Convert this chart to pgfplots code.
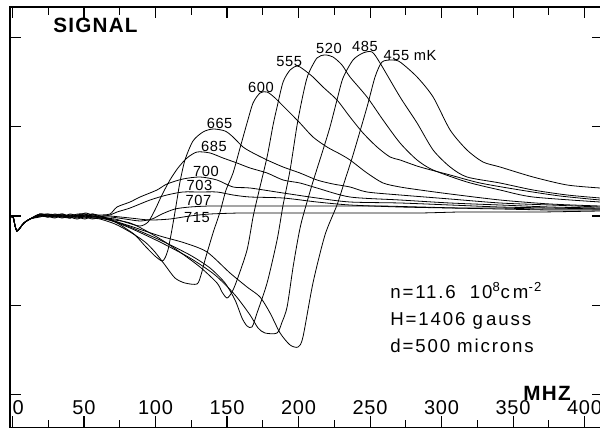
\documentclass[border=0pt]{standalone}
\usepackage{fontspec}
\setmainfont{Liberation Sans}
\newfontfamily\tickfont[LetterSpace=4]{Liberation Sans}
\newfontfamily\labfont[LetterSpace=4]{Liberation Sans}
\newfontfamily\annfont[LetterSpace=10]{Liberation Sans}
\newfontfamily\titfont[LetterSpace=6]{Liberation Sans}
\usepackage{pgfplots}
\pgfplotsset{compat=1.18}
\pgfplotsset{trace/.style={black, line width=0.6pt, smooth, tension=0.45, mark=none}}
\begin{document}
\begin{tikzpicture}
\begin{axis}[
  scale only axis,
  width=444.75pt, height=315.375pt,
  at={(0,0)}, anchor=south west,
  xmin=-1.75, xmax=412.9,
  ymin=-211.5, ymax=209,
  axis line style={line width=1.1pt},
  xtick={0,50,...,400},
  xticklabels={\makebox[0pt][l]{0},50,100,150,200,250,300,350,400},
  minor xtick={25,75,...,375},
  ytick={-178.6,-89.3,0,89.3,178.6},
  yticklabels={},
  tick align=inside,
  major tick length=8.5pt,
  minor tick length=6pt,
  tick style={line width=0.8pt, black},
  xticklabel style={anchor=base, yshift=9.4pt, font=\tickfont\fontsize{15}{17}\selectfont},
]
% 715 mK
\addplot[trace] coordinates {(-1.7,-1) (0.4,-1) (1.8,-10) (3.1,-15) (5.2,-12) (8.0,-7) (12.2,-3) (19.2,2) (24.5,0) (29.7,-1) (35.0,1) (40.2,0) (45.5,2) (50.7,2) (56.0,-1) (61.2,0)
 (68.2,0) (82.2,-2) (96.2,-4) (110.1,-3) (124.1,0) (138.1,2) (159.1,3) (180.1,3) (201.0,3) (229.0,3) (257.0,3) (285.0,3) (313.0,4) (340.9,4) (368.9,4) (410.9,5)};
% 707 mK
\addplot[trace] coordinates {(-1.7,-1) (0.4,-1) (1.8,-10) (3.1,-15) (5.2,-12) (8.0,-7) (12.2,-3) (19.2,0) (24.5,1) (29.7,1) (35.0,-1) (40.2,-2) (45.5,1) (50.7,0) (56.0,2) (61.2,-2)
 (68.2,-1) (78.7,-3) (89.2,-5) (97.6,-3) (104.5,2) (113.6,7) (124.1,9) (138.1,10) (159.1,10) (180.1,10) (201.0,10) (229.0,10) (257.0,10) (285.0,9) (313.0,8) (340.9,8) (368.9,7) (410.9,7)};
% 703 mK
\addplot[trace] coordinates {(-1.7,-1) (0.4,-1) (1.8,-10) (3.1,-15) (5.2,-12) (8.0,-7) (12.2,-3) (19.2,1) (24.5,-1) (29.7,0) (35.0,2) (40.2,-1) (45.5,0) (50.7,1) (56.0,-2) (61.2,-1)
 (68.2,1) (73.1,4) (82.2,8) (96.2,16) (108.0,21) (119.2,24) (131.1,24) (143.0,24) (154.2,21) (166.1,19) (189.2,18) (212.9,14) (236.0,11) (271.0,9) (306.0,8) (340.9,7) (375.9,6) (410.9,6)};
% 700 mK
\addplot[trace] coordinates {(-1.7,-1) (0.4,-1) (1.8,-10) (3.1,-15) (5.2,-12) (8.0,-7) (12.2,-3) (19.2,2) (24.5,1) (29.7,-1) (35.0,0) (40.2,1) (45.5,-1) (50.7,3) (56.0,1) (61.2,1)
 (68.2,2) (73.1,9) (82.2,14) (89.2,19) (101.0,26) (108.0,32) (119.2,37) (131.1,39) (143.0,36) (154.2,29) (166.1,28) (189.2,23) (212.9,18) (236.0,14) (271.0,13) (306.0,11) (340.9,9) (375.9,8) (410.9,7)};
% 685 mK
\addplot[trace] coordinates {(-1.7,-1) (0.4,-1) (1.8,-10) (3.1,-15) (5.2,-12) (8.0,-7) (12.2,-3) (19.2,0) (24.5,2) (29.7,1) (35.0,-1) (40.2,0) (45.5,-2) (50.7,1) (56.0,0) (61.2,-2)
 (71.7,-3) (80.8,-7) (89.2,-10) (94.8,-6) (99.6,6) (104.5,21) (110.1,36) (115.7,48) (122.0,58) (129.0,64) (138.1,63) (147.2,58) (157.0,53) (166.1,48) (178.0,43) (189.2,36) (201.0,33) (212.9,28) (236.0,19) (271.0,16) (306.0,13) (340.9,11) (375.9,9) (410.9,8)};
% 665 mK
\addplot[trace] coordinates {(-1.7,-1) (0.4,-1) (1.8,-10) (3.1,-15) (5.2,-12) (8.0,-7) (12.2,-3) (19.2,1) (24.5,0) (29.7,2) (35.0,0) (40.2,-2) (45.5,1) (50.7,-1) (56.0,-3) (61.2,-2)
 (71.7,-6) (78.7,-12) (85.7,-19) (92.7,-30) (99.6,-40) (104.5,-45) (106.6,-42) (108.7,-34) (110.8,-19) (112.9,-2) (115.0,16) (117.1,34) (120.6,56) (126.2,75) (133.2,84) (140.2,87) (148.6,85) (154.2,79) (161.2,69) (168.2,63) (178.0,56) (189.2,49) (201.0,43) (212.9,36) (224.1,32) (236.0,29) (247.9,24) (271.0,21) (306.0,17) (340.9,13) (375.9,11) (410.9,9)};
% 600 mK
\addplot[trace] coordinates {(-1.7,-1) (0.4,-1) (1.8,-10) (3.1,-15) (5.2,-12) (8.0,-7) (12.2,-3) (19.2,0) (24.5,-1) (29.7,1) (35.0,2) (40.2,-1) (45.5,-3) (50.7,0) (56.0,-2) (61.2,-3)
 (71.7,-8) (82.2,-16) (92.7,-26) (99.6,-36) (106.6,-49) (113.6,-62) (120.6,-67) (129.0,-68) (131.8,-59) (134.6,-44) (140.2,-17) (145.1,4) (149.3,26) (154.2,43) (159.1,68) (164.0,93) (168.2,113) (173.1,123) (178.0,124) (183.6,118) (192.0,106) (201.0,93) (210.1,79) (219.9,69) (229.0,62) (236.0,56) (247.9,43) (259.1,33) (271.0,29) (285.0,26) (306.0,22) (340.9,16) (375.9,12) (410.9,10)};
% 555 mK
\addplot[trace] coordinates {(-1.7,-1) (0.4,-1) (1.8,-10) (3.1,-15) (5.2,-12) (8.0,-7) (12.2,-3) (19.2,2) (24.5,0) (29.7,-2) (35.0,1) (40.2,0) (45.5,-1) (50.7,-3) (56.0,0) (61.2,-2)
 (82.2,-7) (101.0,-21) (115.0,-34) (131.1,-51) (143.0,-67) (146.5,-76) (150.0,-82) (153.5,-76) (157.0,-64) (164.0,-34) (168.2,-1) (171.7,21) (178.0,59) (182.2,91) (185.0,109) (189.2,134) (194.1,146) (199.0,150) (203.1,147) (210.1,139) (217.1,129) (226.9,116) (236.0,99) (245.1,83) (254.9,69) (264.0,59) (271.0,56) (285.0,49) (306.0,41) (326.9,33) (354.9,26) (382.9,20) (410.9,16)};
% 520 mK
\addplot[trace] coordinates {(-1.7,-1) (0.4,-1) (1.8,-10) (3.1,-15) (5.2,-12) (8.0,-7) (12.2,-3) (19.2,1) (24.5,2) (29.7,0) (35.0,-2) (40.2,1) (45.5,0) (50.7,-2) (56.0,1) (61.2,-1)
 (64.7,-2) (82.2,-11) (103.1,-24) (124.1,-39) (138.1,-52) (148.6,-67) (155.6,-84) (160.5,-102) (164.0,-110) (167.5,-111) (171.0,-97) (178.0,-67) (185.0,-24) (189.2,11) (194.1,46) (199.0,91) (203.1,121) (206.6,141) (212.9,158) (218.5,161) (224.1,159) (230.4,151) (236.0,139) (247.9,119) (259.1,96) (271.0,73) (282.9,56) (294.1,46) (317.8,34) (340.9,26) (364.0,19) (410.9,14)};
% 485 mK
\addplot[trace] coordinates {(-1.7,-1) (0.4,-1) (1.8,-10) (3.1,-15) (5.2,-12) (8.0,-7) (12.2,-3) (19.2,-1) (24.5,1) (29.7,0) (35.0,1) (40.2,-2) (45.5,1) (50.7,2) (56.0,-1) (61.2,0)
 (64.7,-2) (82.2,-12) (103.1,-26) (124.1,-42) (141.6,-59) (155.6,-79) (166.1,-99) (171.7,-112) (176.6,-117) (185.0,-117) (188.5,-106) (192.0,-91) (196.2,-51) (199.7,-22) (202.4,-4) (209.4,31) (217.1,66) (222.0,89) (226.9,116) (231.1,138) (238.1,156) (245.1,163) (251.4,164) (257.0,153) (271.0,119) (282.9,93) (294.1,66) (306.0,49) (317.8,39) (340.9,33) (364.0,26) (387.8,21) (410.9,18)};
% 455 mK
\addplot[trace] coordinates {(-1.7,-1) (0.4,-1) (1.8,-10) (3.1,-15) (5.2,-12) (8.0,-7) (12.2,-3) (19.2,1) (24.5,-1) (29.7,0) (35.0,-1) (40.2,2) (45.5,0) (50.7,-1) (56.0,2) (61.2,0)
 (64.7,-2) (82.2,-10) (103.1,-20) (120.6,-27) (136.0,-36) (152.1,-57) (164.0,-71) (173.1,-81) (180.1,-97) (187.1,-117) (194.1,-129) (199.7,-131) (203.1,-121) (210.1,-67) (218.5,-19) (226.9,11) (232.5,36) (238.1,61) (247.9,109) (253.5,139) (258.4,154) (265.4,156) (271.0,154) (282.9,139) (294.1,119) (306.0,86) (317.8,66) (329.0,54) (340.9,49) (364.0,39) (387.8,31) (410.9,28)};
% labels
\node[font=\titfont\bfseries\fontsize{15.5}{17}\selectfont] at (axis cs:58,190.5) {SIGNAL};
\node[font=\titfont\bfseries\fontsize{15.5}{17}\selectfont] at (axis cs:373.8,-177) {MHZ};
\begin{scope}[every node/.style={font=\labfont\fontsize{11}{13}\selectfont, inner sep=0pt}]
\node at (axis cs:144.8,92.5) {665};
\node at (axis cs:140.9,70) {685};
\node at (axis cs:135.3,44.5) {700};
\node at (axis cs:130.8,30.5) {703};
\node at (axis cs:130.1,16) {707};
\node at (axis cs:129.0,-2) {715};
\node at (axis cs:173.8,129) {600};
\node at (axis cs:193.4,154.5) {555};
\node at (axis cs:221.3,167.5) {520};
\node at (axis cs:246.5,169.5) {485};
\node at (axis cs:278.0,160) {455 mK};
\end{scope}
\begin{scope}[every node/.style={font=\annfont\fontsize{14}{16}\selectfont, inner sep=0pt, anchor=base west}]
\node at (axis cs:264,-82) {n=11.6\ \ 10\textsuperscript{8}c\,m\textsuperscript{-2}};
\node at (axis cs:264,-109) {H=1406 g\,auss};
\node at (axis cs:264,-136) {d=500 microns};
\end{scope}
\end{axis}
\pgfresetboundingbox
\useasboundingbox (-7.5pt,-1.125pt) rectangle (442.5pt,320.625pt);
\end{tikzpicture}
\end{document}
